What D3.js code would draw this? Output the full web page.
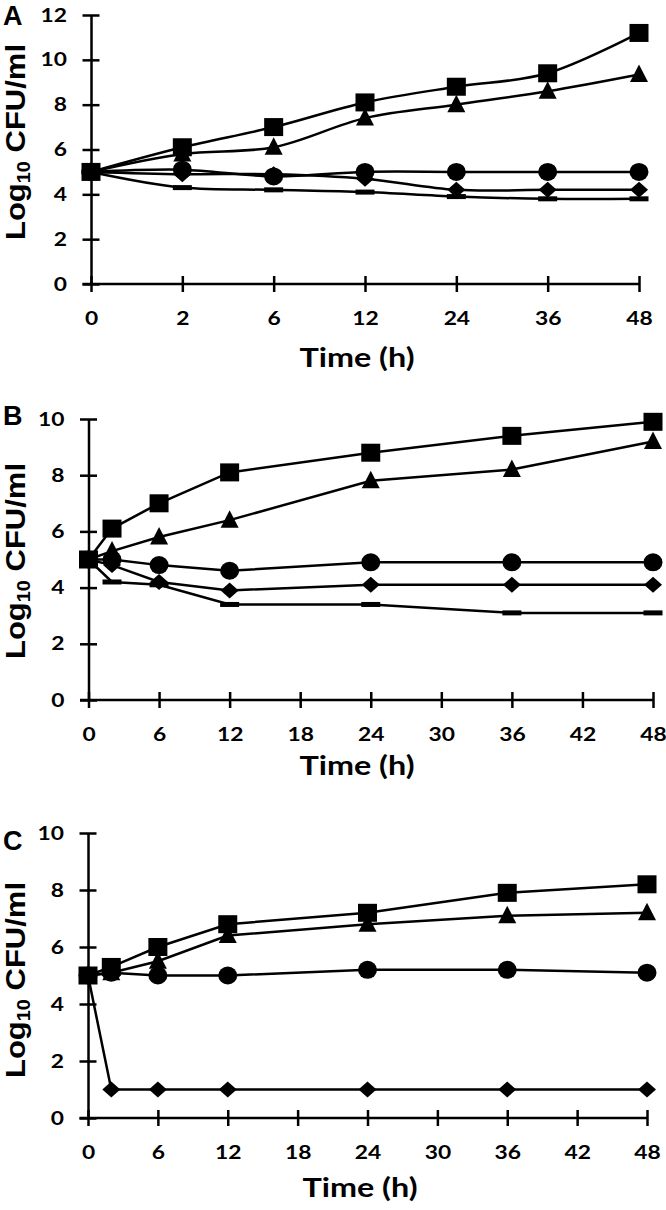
<!DOCTYPE html>
<html><head><meta charset="utf-8">
<script src="https://cdn.jsdelivr.net/npm/d3@7"></script>
<style>body{margin:0;background:#fff}svg{display:block}</style>
</head><body>
<script>
// ---- data ----
const times = [0, 2, 6, 12, 24, 36, 48];
const xTickLabelsA = ["0", "2", "6", "12", "24", "36", "48"];
const xTicksBC = [0, 6, 12, 18, 24, 30, 36, 42, 48];
const yTicksA = [0, 2, 4, 6, 8, 10, 12];
const yTicksBC = [0, 2, 4, 6, 8, 10];

const aSquare   = [5.0, 6.1, 7.0, 8.1, 8.8, 9.4, 11.2];
const aTriangle = [5.0, 5.8, 6.1, 7.4, 8.0, 8.6, 9.35];
const aCircle   = [5.0, 5.1, 4.8, 5.0, 5.0, 5.0, 5.0];
const aDiamond  = [5.0, 4.9, 4.9, 4.7, 4.2, 4.2, 4.2];
const aDash     = [5.0, 4.3, 4.2, 4.1, 3.9, 3.8, 3.8];

const bSquare   = [5.0, 6.1, 7.0, 8.1, 8.8, 9.4, 9.9];
const bTriangle = [5.0, 5.3, 5.8, 6.4, 7.8, 8.2, 9.2];
const bCircle   = [5.0, 5.0, 4.8, 4.6, 4.9, 4.9, 4.9];
const bDiamond  = [5.0, 4.8, 4.2, 3.9, 4.1, 4.1, 4.1];
const bDash     = [5.0, 4.2, 4.1, 3.4, 3.4, 3.1, 3.1];

const cSquare   = [5.0, 5.3, 6.0, 6.8, 7.2, 7.9, 8.2];
const cTriangle = [5.0, 5.1, 5.5, 6.4, 6.8, 7.1, 7.2];
const cCircle   = [5.0, 5.1, 5.0, 5.0, 5.2, 5.2, 5.1];
const cDiamond  = [5.0, 1.0, 1.0, 1.0, 1.0, 1.0, 1.0];

// ---- layout ----
const panels = [
  {label: "A", categorical: true, left: 91, right: 639, top: 15, bottom: 284, yMax: 12,
   yTicks: yTicksA, titleY: 142, timeX: 357, timeY: 367, letterY: 25,
   series: [["dash", aDash], ["diamond", aDiamond], ["circle", aCircle], ["triangle", aTriangle], ["square", aSquare]]},
  {label: "B", categorical: false, left: 88.5, right: 653, top: 419, bottom: 700, yMax: 10,
   yTicks: yTicksBC, titleY: 561, timeX: 357, timeY: 775, letterY: 425,
   series: [["dash", bDash], ["diamond", bDiamond], ["circle", bCircle], ["triangle", bTriangle], ["square", bSquare]]},
  {label: "C", categorical: false, left: 88, right: 647, top: 833, bottom: 1118, yMax: 10,
   yTicks: yTicksBC, titleY: 980, timeX: 360, timeY: 1197, letterY: 850,
   series: [["diamond", cDiamond], ["circle", cCircle], ["triangle", cTriangle], ["square", cSquare]]}
];

const svg = d3.select("body").append("svg").attr("width", 666).attr("height", 1210);
const tickFont = "Lato, 'Open Sans', sans-serif";
const titleFont = "'Liberation Sans', Arial, sans-serif";
const SX = 1.2; // horizontal stretch of tick label glyphs

function marker(g, type, x, y) {
  if (type === "square") {
    g.append("rect").attr("x", x - 9.5).attr("y", y - 9).attr("width", 19).attr("height", 18).attr("fill", "#000");
  } else if (type === "triangle") {
    g.append("path").attr("d", `M${x},${y - 10}L${x + 9},${y + 7.5}L${x - 9},${y + 7.5}Z`).attr("fill", "#000");
  } else if (type === "circle") {
    g.append("ellipse").attr("cx", x).attr("cy", y).attr("rx", 9.5).attr("ry", 9).attr("fill", "#000");
  } else if (type === "diamond") {
    g.append("path").attr("d", `M${x},${y - 8}L${x + 9},${y}L${x},${y + 8}L${x - 9},${y}Z`).attr("fill", "#000");
  } else if (type === "dash") {
    g.append("rect").attr("x", x - 9.5).attr("y", y - 2.5).attr("width", 19).attr("height", 5).attr("fill", "#000");
  }
}

panels.forEach(p => {
  const g = svg.append("g");
  let x, xPos;
  if (p.categorical) {
    x = d3.scalePoint().domain(xTickLabelsA).range([p.left, p.right]);
    xPos = i => x(xTickLabelsA[i]);
  } else {
    x = d3.scaleLinear().domain([0, 48]).range([p.left, p.right]);
    xPos = i => x(times[i]);
  }
  const y = d3.scaleLinear().domain([0, p.yMax]).range([p.bottom, p.top]);

  // y axis
  const ya = g.append("g").attr("transform", `translate(${p.left},0)`)
    .call(d3.axisLeft(y).tickValues(p.yTicks).tickSizeOuter(0).tickSizeInner(8).tickPadding(12).tickFormat(d3.format("d")));
  ya.select(".domain").attr("stroke", "#000").attr("stroke-width", 2.5);
  ya.selectAll(".tick line").attr("x1", -8.5).attr("x2", 8.5).attr("stroke", "#000").attr("stroke-width", 2.5);
  ya.selectAll(".tick text").attr("x", -24 / SX).attr("transform", `scale(${SX},1)`)
    .attr("font-family", tickFont).attr("font-weight", 700).attr("font-size", 19).attr("fill", "#000");

  // x axis
  const xa = g.append("g").attr("transform", `translate(0,${p.bottom})`);
  if (p.categorical) {
    xa.call(d3.axisBottom(x).tickSizeOuter(0).tickSizeInner(8).tickPadding(12));
  } else {
    xa.call(d3.axisBottom(x).tickValues(xTicksBC).tickSizeOuter(0).tickSizeInner(8).tickPadding(12).tickFormat(d3.format("d")));
  }
  xa.select(".domain").attr("stroke", "#000").attr("stroke-width", 2.5).attr("d", `M${p.left - 8.5},0H${p.right}`);
  xa.selectAll(".tick line").attr("y1", -8).attr("y2", 8).attr("stroke", "#000").attr("stroke-width", 2.5);
  xa.selectAll(".tick text").attr("y", 41).attr("dy", null).attr("transform", `scale(${SX},1)`)
    .attr("font-family", tickFont).attr("font-weight", 700).attr("font-size", 19).attr("fill", "#000");

  // lines
  const line = d3.line().x((d, i) => xPos(i)).y(d => y(d))
    .curve(p.categorical ? d3.curveCatmullRom.alpha(0.5) : d3.curveLinear);
  p.series.forEach(([type, vals]) => {
    g.append("path").datum(vals).attr("d", line).attr("fill", "none").attr("stroke", "#000").attr("stroke-width", 2.5);
  });
  p.series.forEach(([type, vals]) => {
    vals.forEach((v, i) => marker(g, type, xPos(i), y(v)));
  });

  // titles
  g.append("text").attr("x", p.timeX).attr("y", p.timeY).attr("text-anchor", "middle")
    .attr("textLength", 115).attr("lengthAdjust", "spacingAndGlyphs")
    .attr("font-family", tickFont).attr("font-weight", 700).attr("font-size", 27).attr("fill", "#000").text("Time (h)");

  const yt = g.append("text").attr("transform", `translate(25,${p.titleY}) rotate(-90)`).attr("text-anchor", "middle")
    .attr("textLength", 196).attr("lengthAdjust", "spacingAndGlyphs")
    .attr("font-family", titleFont).attr("font-weight", 700).attr("font-size", 28).attr("fill", "#000");
  yt.append("tspan").text("Log");
  yt.append("tspan").attr("font-size", 18).attr("dy", 5).text("10");
  yt.append("tspan").attr("dy", -5).text(" CFU/ml");

  g.append("text").attr("x", 3).attr("y", p.letterY).attr("font-family", titleFont).attr("font-weight", 700)
    .attr("font-size", 27).attr("fill", "#000").text(p.label);
});
</script>
</body></html>
